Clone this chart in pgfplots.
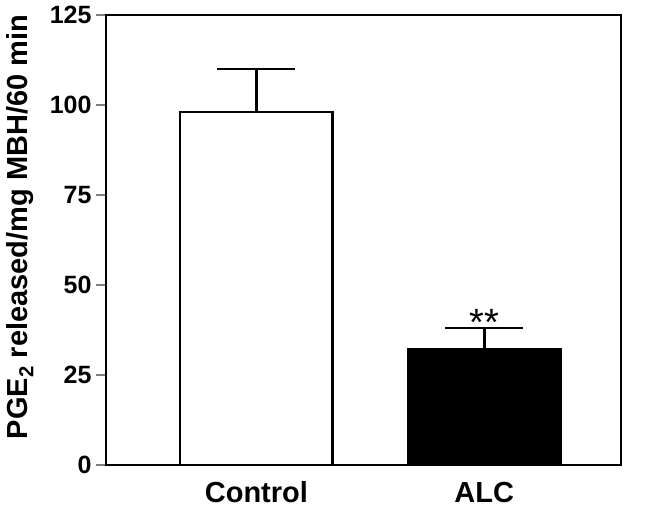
\documentclass[border=0pt]{standalone}
\usepackage{fontspec}
\setmainfont{Liberation Sans}
\usepackage{pgfplots}
\pgfplotsset{compat=1.18}

\begin{document}
\begin{tikzpicture}
\begin{axis}[
    name=main,
    scale only axis,
    width=515pt,
    height=450pt,
    axis line style={line width=2.6pt},
    xmin=-0.66, xmax=1.6,
    ymin=0, ymax=125,
    ytick={0,25,50,75,100,125},
    xtick={0,1},
    xticklabels={Control,ALC},
    ytick pos=left,
    tick align=outside,
    major tick length=10pt,
    xtick style={draw=none},
    ytick style={line width=2.6pt},
    xticklabel style={font=\fontsize{29}{32}\selectfont\bfseries,
        text height=21pt, text depth=0pt, yshift=-3pt},
    yticklabel style={font=\fontsize{25}{28}\selectfont\bfseries, xshift=-1pt},
    /pgf/number format/assume math mode=true,
    ylabel={PGE\textsubscript{2} released/mg MBH/60 min},
    ylabel style={font=\fontsize{29}{32}\selectfont\bfseries, xshift=13pt, yshift=9pt},
]
\addplot[ybar, bar width=0.67, fill=white, draw=black, line width=2.6pt,
    error bars/.cd, y dir=plus, y explicit,
    error bar style={line width=2.6pt},
    error mark options={rotate=90, line width=2.6pt, mark size=39pt}]
  coordinates {(0,98) +- (0,12)};
\addplot[ybar, bar width=0.67, fill=black, draw=black, line width=2.6pt,
    error bars/.cd, y dir=plus, y explicit,
    error bar style={line width=2.6pt},
    error mark options={rotate=90, line width=2.6pt, mark size=39pt}]
  coordinates {(1,32) +- (0,6)};
\node[font=\fontsize{38}{40}\selectfont, anchor=base] at (axis cs:1,36) {**};
\end{axis}
\pgfresetboundingbox
\path ([shift={(-106pt,-48pt)}]main.south west) rectangle ([shift={(539pt,465pt)}]main.south west);
\end{tikzpicture}
\end{document}
